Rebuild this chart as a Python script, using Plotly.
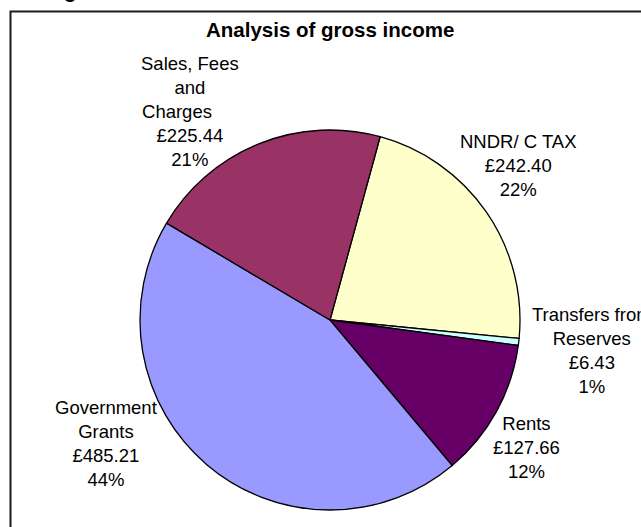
import plotly.graph_objects as go

# Gross income by source (GBP), drawn clockwise from the NNDR slice
categories = ["NNDR/ C TAX", "Transfers from Reserves", "Rents",
              "Government Grants", "Sales, Fees and Charges"]
amounts = [242.40, 6.43, 127.66, 485.21, 225.44]
pct_labels = ["22%", "1%", "12%", "44%", "21%"]
name_lines = ["NNDR/ C TAX", "Transfers from<br>Reserves", "Rents",
              "Government<br>Grants",
              "Sales, Fees<br>and<br>Charges\u00a0\u00a0\u00a0\u00a0\u00a0"]
colors = ["#FFFFCC", "#CCFFFF", "#660066", "#9999FF", "#993366"]

W, H = 641, 527
FONT = "Liberation Sans, Arial, sans-serif"

def px(x, y):
    return x / W, 1 - y / H

# label anchor points (pixels) for each slice
label_pos = [(518, 166), (592, 350), (526, 447), (106, 443), (190, 111)]

# pie box in pixels: centre (330, 320), radius 190
cx, cy, r = 330, 320, 190

fig = go.Figure(go.Pie(
    labels=categories,
    values=amounts,
    sort=False,
    direction="clockwise",
    rotation=15.3,
    marker=dict(colors=colors, line=dict(color="#000000", width=1.3)),
    textinfo="none",
    hoverinfo="label+value+percent",
    showlegend=False,
    domain=dict(x=[(cx - r) / W, (cx + r) / W],
                y=[1 - (cy + r) / H, 1 - (cy - r) / H]),
))

annotations = []
for nm, val, pc, (lx, ly) in zip(name_lines, amounts, pct_labels, label_pos):
    ax, ay = px(lx, ly)
    annotations.append(dict(
        x=ax, y=ay, xref="paper", yref="paper",
        text=f"{nm}<br>£{val:.2f}<br>{pc}",
        showarrow=False, xanchor="center", yanchor="middle",
        align="center",
        font=dict(family=FONT, size=18.5, color="#000000"),
    ))

# chart title
tx, ty = px(330, 30)
annotations.append(dict(
    x=tx, y=ty, xref="paper", yref="paper",
    text="<b>Analysis of gross income</b>",
    showarrow=False, xanchor="center", yanchor="middle",
    font=dict(family=FONT, size=20.5, color="#000000"),
))

# heading text above the chart frame (runs off the top of the page)
gx, gy = px(70, 3)
annotations.append(dict(
    x=gx, y=gy, xref="paper", yref="paper",
    text="<b>g</b>", showarrow=False, xanchor="center", yanchor="bottom",
    borderpad=0,
    font=dict(family=FONT, size=20.5, color="#000000"),
))

# chart-area frame
fx0, fy0 = px(10.5, 11.5)
fx1, fy1 = px(660, 540)
shapes = [dict(type="rect", xref="paper", yref="paper",
               x0=fx0, y0=fy1, x1=fx1, y1=fy0,
               line=dict(color="#1a1a1a", width=2), fillcolor="rgba(0,0,0,0)")]

fig.update_layout(
    width=W, height=H,
    margin=dict(l=0, r=0, t=0, b=0),
    paper_bgcolor="#FFFFFF", plot_bgcolor="#FFFFFF",
    annotations=annotations, shapes=shapes,
)

fig.write_html("out.html")
